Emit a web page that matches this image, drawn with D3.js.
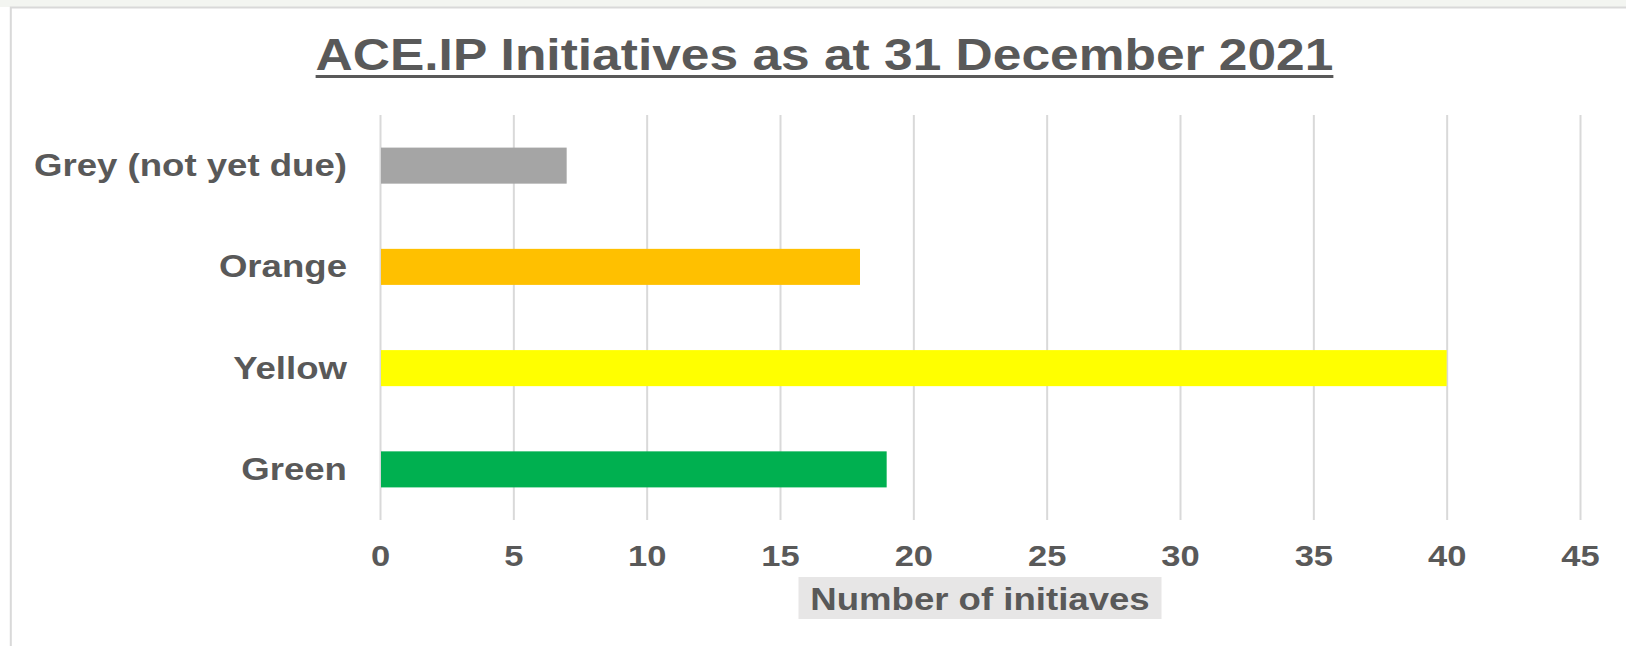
<!DOCTYPE html>
<html>
<head>
<meta charset="utf-8">
<script src="https://cdn.jsdelivr.net/npm/d3@7"></script>
<style>
  html, body { margin: 0; padding: 0; background: #ffffff; }
  svg { display: block; }
  text { font-family: "Liberation Sans", Arial, sans-serif; font-weight: bold; fill: #595959; }
</style>
</head>
<body>
<svg id="chart" width="1626" height="646"></svg>
<script>
// Chart data
const categories = ["Grey (not yet due)", "Orange", "Yellow", "Green"];
const values = [7, 18, 40, 19];
const barColors = ["#a5a5a5", "#ffc000", "#ffff00", "#00b050"];
const xTicks = [0, 5, 10, 15, 20, 25, 30, 35, 40, 45];
const titleText = "ACE.IP Initiatives as at 31 December 2021";
const xAxisTitle = "Number of initiaves";

const W = 1626, H = 646;
const plot = { left: 380, right: 1580, top: 115, bottom: 520 };

const svg = d3.select("#chart");

// widen a text element horizontally by a factor
function widen(sel, factor) {
  sel.each(function () {
    const len = this.getComputedTextLength();
    d3.select(this).attr("textLength", len * factor).attr("lengthAdjust", "spacingAndGlyphs");
  });
}

// page strip and chart frame
svg.append("rect").attr("x", 0).attr("y", 0).attr("width", W).attr("height", 7)
  .attr("fill", "#f3f5f1");
svg.append("path")
  .attr("d", `M10.8,${H} V7.5 H${W}`)
  .attr("fill", "none").attr("stroke", "#d9d9d9").attr("stroke-width", 2);

const x = d3.scaleLinear().domain([0, 45]).range([plot.left, plot.right]);
const y = d3.scaleBand().domain(categories)
  .range([plot.top, plot.bottom])
  .paddingInner(0.644).paddingOuter(0.322);

// vertical gridlines and value labels
const xAxis = svg.append("g")
  .attr("transform", `translate(0,${plot.bottom})`)
  .call(d3.axisBottom(x).tickValues(xTicks).tickSize(-(plot.bottom - plot.top)).tickFormat(d3.format("d")));
xAxis.select(".domain").remove();
xAxis.selectAll(".tick line").attr("stroke", "#d9d9d9").attr("stroke-width", 2);
xAxis.selectAll(".tick text")
  .attr("y", 46).attr("dy", null)
  .style("font-size", "30px").attr("fill", "#595959")
  .call(widen, 1.15);

// bars
svg.append("g").selectAll("rect")
  .data(categories)
  .join("rect")
  .attr("x", x(0) + 1)
  .attr("y", d => y(d))
  .attr("width", (d, i) => x(values[i]) - x(0) - 1)
  .attr("height", y.bandwidth())
  .attr("fill", (d, i) => barColors[i]);

// category labels
svg.append("g").selectAll("text")
  .data(categories)
  .join("text")
  .attr("x", 347)
  .attr("y", d => y(d) + y.bandwidth() / 2)
  .attr("dy", "0.34em")
  .attr("text-anchor", "end")
  .style("font-size", "31px")
  .text(d => d)
  .call(widen, 1.18);

// axis title in a shaded box
const axTitle = svg.append("g");
axTitle.append("rect")
  .attr("x", 798.5).attr("y", 577).attr("width", 363).attr("height", 42)
  .attr("fill", "#e7e6e6");
axTitle.append("text")
  .attr("x", (plot.left + plot.right) / 2).attr("y", 610)
  .attr("text-anchor", "middle")
  .style("font-size", "31px")
  .text(xAxisTitle)
  .call(widen, 1.18);

// chart title with underline
const title = svg.append("text")
  .attr("x", 824.5).attr("y", 69.5)
  .attr("text-anchor", "middle")
  .style("font-size", "44px")
  .text(titleText)
  .call(widen, 1.17);
const tb = title.node().getBBox();
svg.append("line")
  .attr("x1", tb.x).attr("x2", tb.x + tb.width)
  .attr("y1", 76.5).attr("y2", 76.5)
  .attr("stroke", "#595959").attr("stroke-width", 3);
</script>
</body>
</html>
